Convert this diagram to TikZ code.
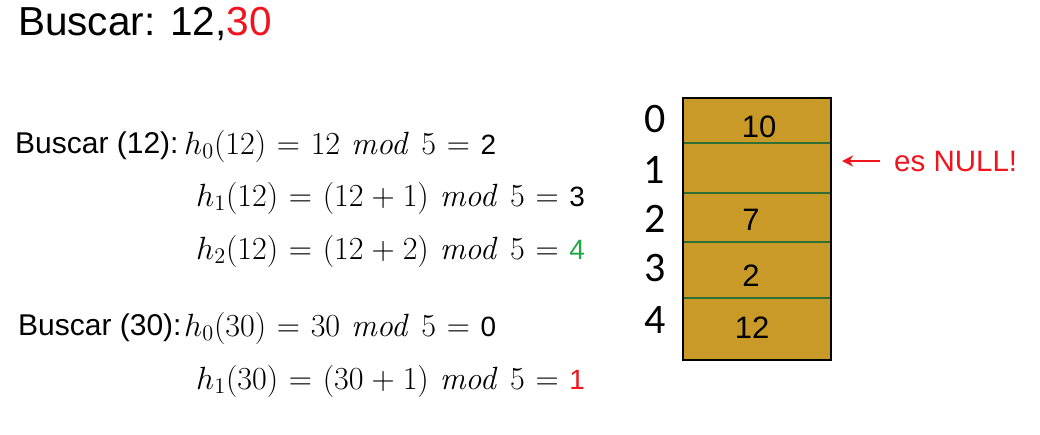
\RequirePackage{fix-cm}
\documentclass[tikz,border=0pt]{standalone}
\usepackage[no-math]{fontspec}
\usepackage{graphicx}
\usetikzlibrary{arrows.meta}
\setmainfont{Liberation Sans}
\newfontfamily\idxfont{Carlito}
\definecolor{gold}{HTML}{C99A27}
\definecolor{divgreen}{HTML}{2F6E35}
\definecolor{myred}{HTML}{F0141E}
\definecolor{mygreen}{HTML}{22A84A}
\newcommand{\fs}[1]{\fontsize{#1}{#1}\selectfont}
\newcommand{\md}{\;\mathit{mod}\;}
\newcommand{\eqsp}{\thickmuskip=6mu\relax\medmuskip=4.5mu\relax}
\newcommand{\res}[1]{\textnormal{\fs{18}#1}}
\newcommand{\eqbox}[1]{\scalebox{1.55}{\fs{20.74}$\eqsp #1$}}
\begin{document}
\begin{tikzpicture}[x=1pt,y=-1pt,
  lbl/.style={inner sep=0pt,anchor=west,font=\fs{30}},
  eq/.style={inner sep=0pt,anchor=west},
  idx/.style={inner sep=0pt,font=\idxfont\fs{42}},
  cell/.style={inner sep=0pt,font=\fs{31}},
  divider/.style={draw=divgreen,line width=1.2pt}]
\useasboundingbox (0,0) rectangle (1040,434);
% title
\node[inner sep=0pt,anchor=west,font=\fs{40.5}] (title) at (18,24) {Buscar: 12,\textcolor{myred}{30}};
% equations
\node[lbl] (b12) at (15,146) {Buscar (12):};
\node[eq] (e1) at (184,146) {\eqbox{h_0(12) = 12\md 5 = \res{2}}};
\node[eq] (e2) at (196,198) {\eqbox{h_1(12) = (12+1)\md 5 = \res{3}}};
\node[eq] (e3) at (196,251) {\eqbox{h_2(12) = (12+2)\md 5 = \res{\textcolor{mygreen}{4}}}};
\node[lbl] (b30) at (18,328) {Buscar (30):};
\node[eq] (e4) at (184,328) {\eqbox{h_0(30) = 30\md 5 = \res{0}}};
\node[eq] (e5) at (196,381) {\eqbox{h_1(30) = (30+1)\md 5 = \res{\textcolor{myred}{1}}}};
% table
\fill[gold] (683,98) rectangle (831,360);
\draw[divider] (683,143) -- (831,143);
\draw[divider] (683,193) -- (831,193);
\draw[divider] (683,242) -- (831,242);
\draw[divider] (683,298) -- (831,298);
\draw[black,line width=1.2pt] (683,98) rectangle (831,360);
\node[cell] (c0) at (759,127) {10};
\node[cell] (c2) at (751,220) {7};
\node[cell] (c3) at (751,276) {2};
\node[cell] (c4) at (752,328) {12};
\node[idx] (i0) at (655,119) {0};
\node[idx] (i1) at (654,170) {1};
\node[idx] (i2) at (655,219) {2};
\node[idx] (i3) at (655,268) {3};
\node[idx] (i4) at (655,320) {4};
% arrow
\node[inner sep=0pt,anchor=west,font=\fs{29.5},text=myred] (null) at (894,161) {es NULL!};
\coordinate (tail) at (880,161);
\coordinate (tip) at (842,161);
\draw[myred,line width=2.2pt,-{Stealth[length=11pt,width=11pt]}] (tail) -- (tip);
\end{tikzpicture}
\end{document}
